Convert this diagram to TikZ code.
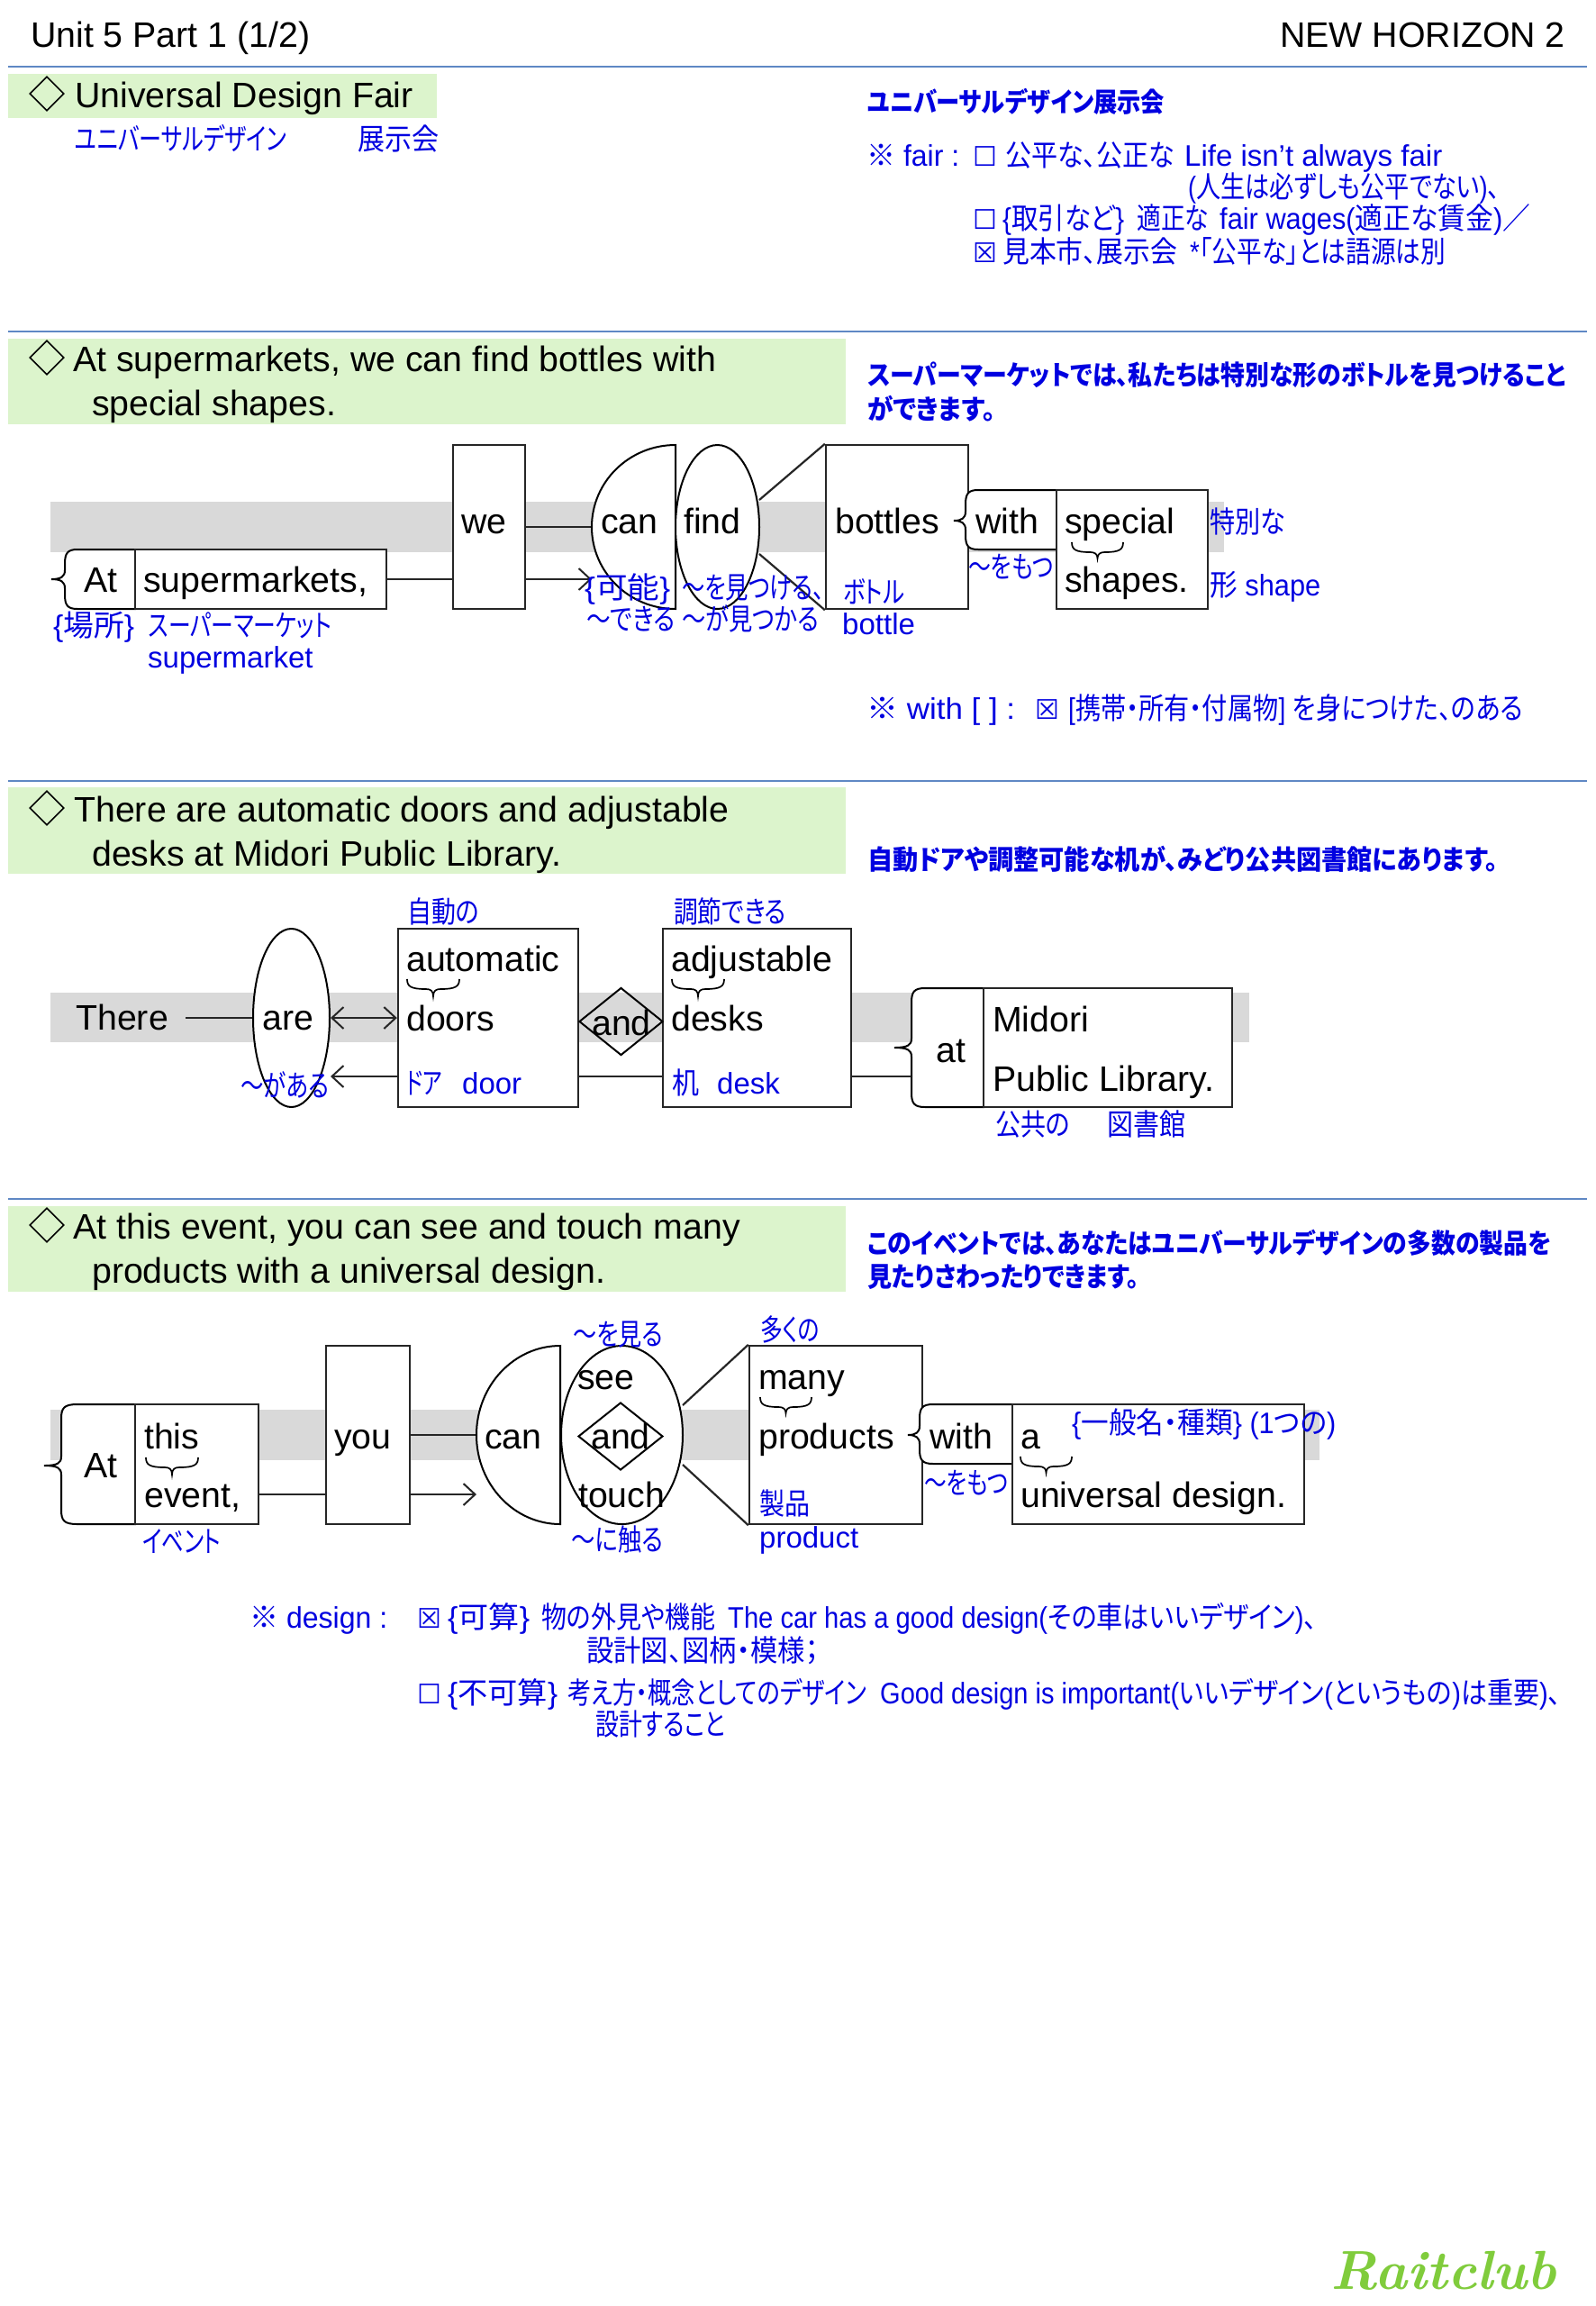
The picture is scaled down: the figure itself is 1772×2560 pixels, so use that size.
\documentclass[tikz,border=0pt]{standalone}
\usepackage{fontspec}
\usepackage{graphicx}
\usetikzlibrary{shapes.geometric,arrows.meta,calc}
\newfontfamily\ar{Liberation Sans}
\newfontfamily\jpf[RawFeature=+palt]{Noto Sans CJK JP}
\newfontfamily\dv{DejaVu Sans}
\newcommand\J[1]{{\jpf #1}}
\newcommand\Ck{{\dv\fontsize{30}{30}\selectfont ☒}}
\newcommand\Un{{\dv\fontsize{30}{30}\selectfont ☐}}
\definecolor{bluetxt}{HTML}{0000E0}
\definecolor{greenbar}{HTML}{DCF4CC}
\definecolor{greyband}{HTML}{D9D9D9}
\definecolor{rulecol}{HTML}{5F88C4}
\definecolor{logocol}{HTML}{80CC3C}
\tikzset{
  txt/.style={anchor=base west,inner sep=0pt,text=black,font=\ar\fontsize{39.3}{40}\selectfont},
  blu/.style={anchor=base west,inner sep=0pt,text=bluetxt,font=\ar\fontsize{33}{34}\selectfont},
  bld/.style={anchor=base west,inner sep=0pt,text=bluetxt,font=\ar\bfseries\fontsize{30}{32}\selectfont},
  wbox/.style={draw=black!85,line width=2.4pt,fill=white,rectangle,inner sep=0pt},
  ell/.style={draw=black,line width=2pt,fill=white,ellipse,inner sep=0pt},
  dia/.style={draw=black,line width=1.6pt,diamond,inner sep=0pt},
  conn/.style={draw=black!85,line width=2.2pt},
  arr/.style={conn,-{Straight Barb[length=13pt,width=24pt,line width=2pt]}},
  arl/.style={conn,{Straight Barb[length=13pt,width=24pt,line width=2pt]}-},
  shp/.style={draw=black,line width=2pt,fill=white},
  brc/.style={draw=black,line width=2pt},
  sec/.style={draw=rulecol,line width=2pt},
  gbar/.style={fill=greenbar},
  band/.style={fill=greyband},
}
\newcommand\Tx[4]{\node[txt] (#1) at (#2,#3) {#4};}
\newcommand\Bl[4]{\node[blu] (#1) at (#2,{#3+11}) {#4};}
% blue text set to a given width in px
\newcommand\Bf[5]{\node[blu] (#1) at (#2,{#3+11}) {\resizebox{#4pt}{\height}{#5}};}
\newcommand\Bd[5]{\node[bld] (#1) at (#2,{#3+11}) {\resizebox{#4pt}{\height}{#5}};}
\newcommand\Bx[6]{\node[wbox,minimum width={#4-#3},minimum height={#6-#5}] (#1) at ({(#3+#4)/2},{(#5+#6)/2}) {#2};}
% brace-fronted box: tip, stem, corner, top, mid, bottom, right
\newcommand\BrBox[7]{\draw[shp] (#7,#4) -- (#3,#4) .. controls ({#2+3},#4) and (#2,{#4+4}) .. (#2,{#4+16})
  -- (#2,{#5-10}) .. controls (#2,{#5-3}) and ({#2-4},#5) .. (#1,#5)
  .. controls ({#2-4},#5) and (#2,{#5+3}) .. (#2,{#5+10})
  -- (#2,{#6-16}) .. controls (#2,{#6-4}) and ({#2+3},#6) .. (#3,#6) -- (#7,#6) -- cycle;}
% small brace under a word: x1, x2, y1, y2
\newcommand\Ub[4]{\draw[brc,line width=1.7pt] (#1,#3) .. controls (#1,{#3+8}) and ({#1+4},{#3+11}) .. ({(#1+#2)/2-8},{#3+11})
  .. controls ({(#1+#2)/2-3},{#3+11}) and ({(#1+#2)/2},{#3+13}) .. ({(#1+#2)/2},#4)
  .. controls ({(#1+#2)/2},{#3+13}) and ({(#1+#2)/2+3},{#3+11}) .. ({(#1+#2)/2+8},{#3+11})
  .. controls ({#2-4},{#3+11}) and (#2,{#3+8}) .. (#2,#3);}
% half ellipse open to the left: xflat, xleft, ytop, ybot
\newcommand\Half[4]{\draw[shp] (#1,#3) .. controls ({#1-0.5523*(#1-#2)},#3) and (#2,{(#3+#4)/2-0.5523*(#4-#3)/2}) .. (#2,{(#3+#4)/2})
  .. controls (#2,{(#3+#4)/2+0.5523*(#4-#3)/2}) and ({#1-0.5523*(#1-#2)},#4) .. (#1,#4) -- cycle;}
\begin{document}
\begin{tikzpicture}[x=1pt,y=-1pt]
\useasboundingbox (0,0) rectangle (1772,2560);
\fill[white] (0,0) rectangle (1772,2560);
% section rules
\foreach \yy in {74,368,867,1331}{\draw[sec] (9,\yy) -- (1762,\yy);}
% green bars
\fill[gbar] (9,82) rectangle (485,131);
\fill[gbar] (9,376) rectangle (939,471);
\fill[gbar] (9,874) rectangle (939,970);
\fill[gbar] (9,1339) rectangle (939,1434);
% grey bands
\fill[band] (56,557) rectangle (1359,613);
\fill[band] (56,1102) rectangle (1387,1157);
\fill[band] (56,1565) rectangle (1465,1621);
% section diamonds
\node[dia,minimum width=38pt,minimum height=38pt] (d1) at (52,104) {};
\node[dia,minimum width=38pt,minimum height=38pt] (d2) at (52,397) {};
\node[dia,minimum width=38pt,minimum height=38pt] (d3) at (52,897) {};
\node[dia,minimum width=38pt,minimum height=38pt] (d4) at (52,1360) {};

% ===== sentence 1 diagram =====
\coordinate (ya) at (0,643);
\coordinate (yb) at (0,585);
\coordinate (canL) at (657,585);
\BrBox{57}{72}{86}{610}{643}{676}{150}
\Bx{sup}{}{150}{429}{610}{676}
\Bx{we}{}{503}{583}{494}{676}
\draw[conn] (sup.east |- ya) -- (we.west |- ya);
\draw[arr] (we.east |- ya) -- (canL |- ya);
\draw[conn] (we.east |- yb) -- (canL |- yb);
\Half{750}{657}{494}{676}
\node[ell,minimum width=93pt,minimum height=182pt] (find) at (796.5,585) {};
\Bx{bot}{}{917}{1075}{494}{676}
\coordinate (fu) at (843,555); \coordinate (fd) at (843,615);
\draw[conn] (fu) -- (bot.north west);
\draw[conn] (fd) -- (bot.south west);
\BrBox{1059}{1072}{1086}{544}{578}{610}{1173}
\Bx{spc}{}{1173}{1341}{544}{676}
\Ub{1190}{1247}{602}{620}

% ===== sentence 2 diagram =====
\coordinate (yc) at (0,1130);
\coordinate (yd) at (0,1195);
\node[ell,minimum width=85pt,minimum height=198pt] (are) at (323.5,1130) {};
\Bx{doors}{}{442}{642}{1031}{1229}
\Bx{desks}{}{736}{945}{1031}{1229}
\draw[conn,{Straight Barb[length=13pt,width=24pt,line width=2pt]}-{Straight Barb[length=13pt,width=24pt,line width=2pt]}] (are.east) -- (doors.west);
\draw[arl] (are.east |- yd) -- (doors.west |- yd);
\draw[conn] (doors.east |- yd) -- (desks.west |- yd);
\node[dia,minimum width=93pt,minimum height=75pt,line width=2pt] (and1) at (689.5,1134) {};
\Ub{452}{510}{1087}{1106}
\Ub{746}{804}{1087}{1106}
\BrBox{993}{1012}{1027}{1097}{1163}{1229}{1092}
\Bx{lib}{}{1092}{1368}{1097}{1229}
\draw[conn] (desks.east |- yd) -- (1012,1195);

% ===== sentence 3 diagram =====
\coordinate (ye) at (0,1593);
\coordinate (yf) at (0,1659);
\coordinate (can2L) at (529,1593);
\BrBox{49}{68}{86}{1559}{1627}{1692}{150}
\Bx{evt}{}{150}{287}{1559}{1692}
\Bx{you}{}{362}{455}{1494}{1692}
\draw[conn] (evt.east |- yf) -- (you.west |- yf);
\draw[arr] (you.east |- yf) -- (can2L |- yf);
\draw[conn] (you.east |- ye) -- (can2L |- ye);
\Half{622}{529}{1494}{1692}
\node[ell,minimum width=135pt,minimum height=198pt] (see) at (690.5,1593) {};
\node[dia,minimum width=94pt,minimum height=75pt,line width=2pt] (and2) at (689,1594.5) {};
\Bx{prod}{}{832}{1024}{1494}{1692}
\coordinate (su) at (758,1560); \coordinate (sd) at (758,1626);
\draw[conn] (su) -- (prod.north west);
\draw[conn] (sd) -- (prod.south west);
\BrBox{1008}{1021}{1036}{1559}{1593}{1625}{1124}
\Bx{des}{}{1124}{1448}{1559}{1692}
\Ub{162}{220}{1618}{1637}
\Ub{844}{901}{1551}{1569}
\Ub{1133}{1190}{1617}{1635}

% ===== header =====
\Tx{hl}{34}{52}{Unit 5 Part 1 (1/2)}
\node[txt,anchor=base east] (hr) at (1738,52) {NEW HORIZON 2};

% ===== black sentence titles =====
\Tx{s1}{83}{119}{Universal Design Fair}
\Tx{s2a}{81}{412}{At supermarkets, we can find bottles with}
\Tx{s2b}{102}{461}{special shapes.}
\Tx{s3a}{82}{912}{There are automatic doors and adjustable}
\Tx{s3b}{102}{961}{desks at Midori Public Library.}
\Tx{s4a}{81}{1375}{At this event, you can see and touch many}
\Tx{s4b}{102}{1424}{products with a universal design.}

% ===== black words =====
\Tx{w1}{93}{657}{At}
\Tx{w2}{159}{657}{supermarkets,}
\Tx{w3}{512}{592}{we}
\Tx{w4}{667}{592}{can}
\Tx{w5}{759}{592}{find}
\Tx{w6}{927}{592}{bottles}
\Tx{w7}{1083}{592}{with}
\Tx{w8}{1182}{592}{special}
\Tx{w9}{1182}{657}{shapes.}

\Tx{there}{84}{1143}{There}
\draw[conn] ([xshift=19pt]there.east |- yc) -- (are.west);
\Tx{x2}{291}{1143}{are}
\Tx{x3}{451}{1078}{automatic}
\Tx{x4}{451}{1144}{doors}
\Tx{x5}{657}{1149}{and}
\Tx{x6}{745}{1078}{adjustable}
\Tx{x7}{745}{1144}{desks}
\Tx{x8}{1039}{1179}{at}
\Tx{x9}{1102}{1145}{Midori}
\Tx{x10}{1102}{1211}{Public Library.}

\Tx{y1}{93}{1640}{At}
\Tx{y2}{160}{1608}{this}
\Tx{y3}{160}{1673}{event,}
\Tx{y4}{371}{1608}{you}
\Tx{y5}{538}{1608}{can}
\Tx{y6}{641}{1542}{see}
\Tx{y7}{656}{1608}{and}
\Tx{y8}{642}{1673}{touch}
\Tx{y9}{842}{1542}{many}
\Tx{y10}{842}{1608}{products}
\Tx{y11}{1032}{1608}{with}
\Tx{y12}{1133}{1608}{a}
\Tx{y13}{1133}{1673}{universal design.}

% ===== blue glosses, section 1 =====
\Bf{a1}{83}{155}{235}{\J{ユニバーサルデザイン}}
\Bf{a2}{397}{155}{90}{\J{展示会}}
\Bd{a3}{963}{113}{330}{\J{ユニバーサルデザイン展示会}}
\Bf{a4}{962}{173}{103}{\J{※} fair :}
\Bl{a5}{1080}{173}{\Un}
\Bf{a6}{1116}{173}{188}{\J{公平な、公正な}}
\Bl{a7}{1315}{173}{Life isn’t always fair}
\Bf{a8}{1319}{208}{346}{(\J{人生は必ずしも公平でない})\J{、}}
\Bl{a9}{1080}{243}{\Un}
\Bf{a10}{1113}{243}{135}{\{\J{取引など}\}}
\Bf{a11}{1262}{243}{80}{\J{適正な}}
\Bf{a12}{1354}{243}{345}{fair wages(\J{適正な賃金})\J{／}}
\Bl{a13}{1080}{280}{\Ck}
\Bf{a14}{1113}{280}{194}{\J{見本市、展示会}}
\Bf{a15}{1321}{280}{284}{*\J{「公平な」とは語源は別}}

% ===== blue, section 2 =====
\Bd{b1}{963}{416}{775}{\J{スーパーマーケットでは、私たちは特別な形のボトルを見つけること}}
\Bd{b2}{963}{454}{142}{\J{ができます。}}
\Bf{b3}{59}{695}{90}{\{\J{場所}\}}
\Bf{b4}{165}{695}{203}{\J{スーパーマーケット}}
\Bl{b5}{164}{730}{supermarket}
\Bf{b6}{649}{653}{95}{\{\J{可能}\}}
\Bf{b7}{757}{653}{158}{\J{～を見つける、}}
\Bf{b8}{651}{688}{98}{\J{～できる}}
\Bf{b9}{757}{688}{152}{\J{～が見つかる}}
\Bf{b10}{936}{658}{68}{\J{ボトル}}
\Bl{b11}{935}{693}{bottle}
\Bf{b12}{1075}{630}{94}{\J{～をもつ}}
\Bf{b13}{1343}{580}{84}{\J{特別な}}
\Bf{b14}{1343}{650}{123}{\J{形} shape}
\Bf{b15}{962}{787}{165}{\J{※} with [ ] :}
\Bl{b16}{1149}{787}{\Ck}
\Bf{b17}{1186}{787}{505}{[\J{携帯・所有・付属物}] \J{を身につけた、のある}}

% ===== blue, section 3 =====
\Bd{c1}{963}{954}{700}{\J{自動ドアや調整可能な机が、みどり公共図書館にあります。}}
\Bf{c2}{452}{1013}{80}{\J{自動の}}
\Bf{c3}{748}{1013}{125}{\J{調節できる}}
\Bf{c4}{267}{1206}{98}{\J{～がある}}
\Bf{c5}{451}{1203}{40}{\J{ドア}}
\Bl{c6}{513}{1203}{door}
\Bf{c7}{746}{1203}{30}{\J{机}}
\Bl{c8}{796}{1203}{desk}
\Bf{c9}{1105}{1249}{83}{\J{公共の}}
\Bf{c10}{1229}{1249}{87}{\J{図書館}}

% ===== blue, section 4 =====
\Bd{e1}{963}{1380}{759}{\J{このイベントでは、あなたはユニバーサルデザインの多数の製品を}}
\Bd{e2}{963}{1417}{302}{\J{見たりさわったりできます。}}
\Bf{e3}{158}{1712}{87}{\J{イベント}}
\Bf{e4}{636}{1482}{100}{\J{～を見る}}
\Bf{e5}{634}{1710}{102}{\J{～に触る}}
\Bf{e6}{844}{1477}{66}{\J{多くの}}
\Bf{e7}{843}{1670}{56}{\J{製品}}
\Bl{e8}{843}{1707}{product}
\Bf{e9}{1026}{1647}{93}{\J{～をもつ}}
\Bf{e10}{1190}{1580}{293}{\{\J{一般名・種類}\} (1\J{つの})}

\Bf{f1}{277}{1796}{153}{\J{※} design :}
\Bl{f2}{463}{1796}{\Ck}
\Bf{f3}{497}{1796}{91}{\{\J{可算}\}}
\Bf{f4}{601}{1796}{193}{\J{物の外見や機能}}
\Bf{f5}{808}{1796}{654}{The car has a good design(\J{その車はいいデザイン})\J{、}}
\Bf{f6}{651}{1833}{258}{\J{設計図、図柄・模様；}}
\Bl{f7}{463}{1880}{\Un}
\Bf{f8}{497}{1880}{122}{\{\J{不可算}\}}
\Bf{f9}{630}{1880}{332}{\J{考え方・概念としてのデザイン}}
\Bf{f10}{977}{1880}{756}{Good design is important(\J{いいデザイン}(\J{というもの})\J{は重要})\J{、}}
\Bf{f11}{661}{1915}{144}{\J{設計すること}}

% ===== logo =====
\node[anchor=base west,inner sep=0pt,text=logocol,font=\rmfamily\bfseries\itshape\fontsize{61}{61}\selectfont] (logo) at (1477,2541) {Raitclub};
\end{tikzpicture}
\end{document}
